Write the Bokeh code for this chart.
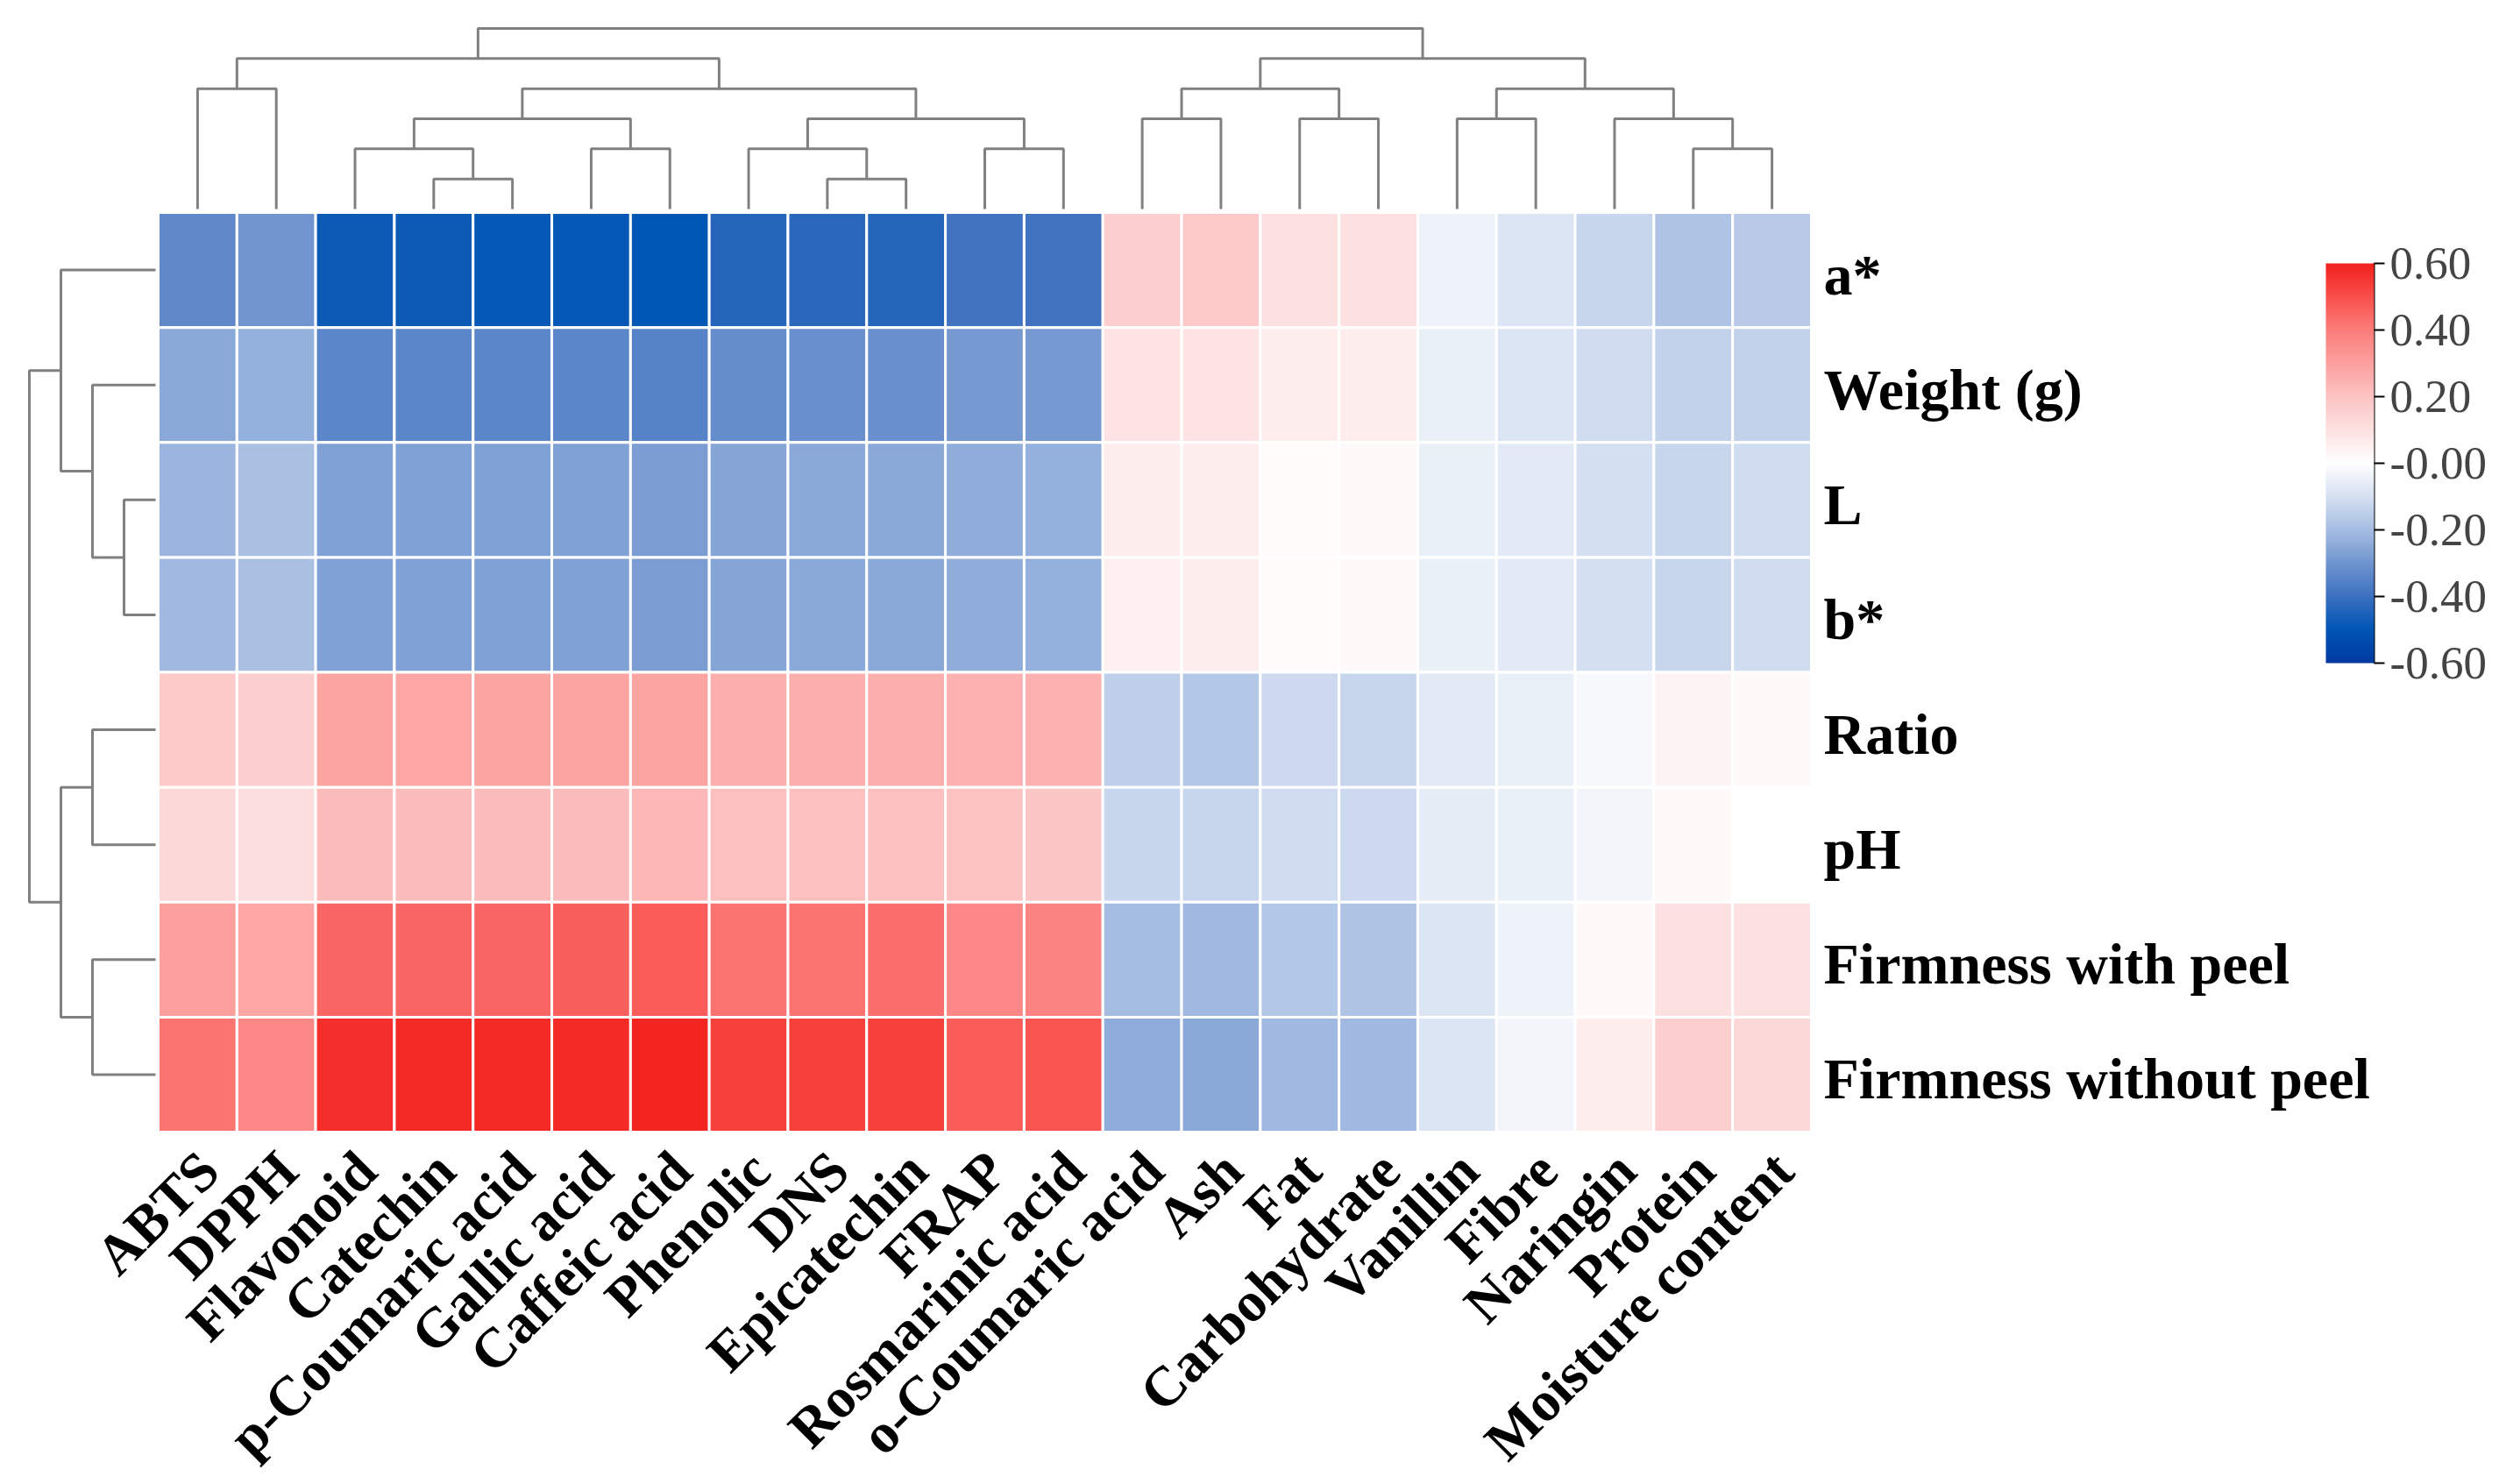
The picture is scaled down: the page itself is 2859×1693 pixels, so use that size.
import math
from bokeh.plotting import figure
from bokeh.models import Range1d, LinearColorMapper, ColorBar, FixedTicker, ColumnDataSource
from bokeh.core.properties import value
from bokeh.embed import file_html
from bokeh.resources import INLINE

# ---------------- data ----------------
columns = ["ABTS", "DPPH", "Flavonoid", "Catechin", "p-Coumaric acid", "Gallic acid",
           "Caffeic acid", "Phenolic", "DNS", "Epicatechin", "FRAP", "Rosmarinic acid",
           "o-Coumaric acid", "Ash", "Fat", "Carbohydrate", "Vanillin", "Fibre",
           "Naringin", "Protein", "Moisture content"]
rows = ["a*", "Weight (g)", "L", "b*", "Ratio", "pH",
        "Firmness with peel", "Firmness without peel"]

a_star = [-0.33, -0.30, -0.48, -0.48, -0.49, -0.49, -0.50, -0.44, -0.43, -0.44, -0.39, -0.39,
          0.16, 0.18, 0.10, 0.10, -0.04, -0.08, -0.13, -0.18, -0.16]
weight = [-0.25, -0.23, -0.34, -0.34, -0.34, -0.34, -0.35, -0.32, -0.31, -0.31, -0.29, -0.29,
          0.09, 0.09, 0.06, 0.06, -0.05, -0.08, -0.11, -0.14, -0.14]
l_val = [-0.22, -0.19, -0.27, -0.27, -0.27, -0.27, -0.28, -0.26, -0.25, -0.25, -0.24, -0.23,
         0.06, 0.06, 0.01, 0.02, -0.05, -0.07, -0.10, -0.13, -0.11]
b_star = [-0.21, -0.19, -0.27, -0.27, -0.27, -0.27, -0.28, -0.26, -0.25, -0.25, -0.24, -0.23,
          0.05, 0.06, 0.01, 0.02, -0.05, -0.07, -0.10, -0.13, -0.11]
ratio = [0.18, 0.16, 0.29, 0.28, 0.29, 0.29, 0.29, 0.26, 0.26, 0.26, 0.25, 0.25,
         -0.15, -0.17, -0.12, -0.13, -0.07, -0.05, -0.02, 0.04, 0.02]
ph = [0.13, 0.11, 0.22, 0.22, 0.22, 0.22, 0.23, 0.21, 0.21, 0.21, 0.20, 0.19,
      -0.13, -0.13, -0.11, -0.12, -0.06, -0.05, -0.03, 0.02, 0.00]
firm_with = [0.30, 0.28, 0.45, 0.45, 0.45, 0.46, 0.47, 0.42, 0.42, 0.43, 0.37, 0.38,
             -0.20, -0.21, -0.17, -0.18, -0.08, -0.04, 0.02, 0.10, 0.10]
firm_without = [0.42, 0.37, 0.57, 0.58, 0.58, 0.58, 0.59, 0.53, 0.53, 0.53, 0.47, 0.49,
                -0.24, -0.25, -0.21, -0.21, -0.08, -0.03, 0.06, 0.16, 0.13]
matrix = [a_star, weight, l_val, b_star, ratio, ph, firm_with, firm_without]

# dendrograms: (height, left, right); ints are leaf indices
col_tree = (6,
            (5, (4, 0, 1),
                (4, (3, (2, 2, (1, 3, 4)), (2, 5, 6)),
                    (3, (2, 7, (1, 8, 9)), (2, 10, 11)))),
            (5, (4, (3, 12, 13), (3, 14, 15)),
                (4, (3, 16, 17), (3, 18, (2, 19, 20)))))
row_tree = (4, (3, 0, (2, 1, (1, 2, 3))), (3, (2, 4, 5), (2, 6, 7)))

cbar_ticks = [-0.6, -0.4, -0.2, 0.0, 0.2, 0.4, 0.6]
cbar_labels = ["-0.60", "-0.40", "-0.20", "-0.00", "0.20", "0.40", "0.60"]

# colour scale anchors (value, rgb)
scale_anchors = [(-0.6, (0, 58, 160)), (-0.5, (0, 86, 180)), (-0.4, (61, 112, 192)),
                 (-0.3, (112, 149, 207)), (-0.2, (166, 189, 226)), (-0.1, (213, 224, 241)),
                 (0.0, (255, 255, 255)), (0.1, (253, 225, 225)), (0.2, (253, 195, 195)),
                 (0.3, (252, 160, 158)), (0.4, (251, 125, 123)), (0.5, (248, 80, 76)),
                 (0.6, (242, 33, 28))]

# ---------------- layout (page pixels) ----------------
W, H = 2859, 1693
PAGE0 = 0
HM_LEFT, HM_TOP, HM_RIGHT, HM_BOTTOM = 180, 242, 2066, 1291
NC, NR = len(columns), len(rows)
CW = (HM_RIGHT - HM_LEFT) / NC
RH = (HM_BOTTOM - HM_TOP) / NR


def dx(px):
    return (px - HM_LEFT) / CW


def dy(py):
    return (py - HM_TOP) / RH


def palette_from(anchors, n=256):
    lo, hi = anchors[0][0], anchors[-1][0]
    out = []
    for k in range(n):
        v = lo + (hi - lo) * k / (n - 1)
        for (v0, c0), (v1, c1) in zip(anchors[:-1], anchors[1:]):
            if v0 <= v <= v1 + 1e-12:
                t = (v - v0) / (v1 - v0)
                rgb = [round(a + (b - a) * t) for a, b in zip(c0, c1)]
                out.append("#%02x%02x%02x" % tuple(rgb))
                break
    return out


palette = palette_from(scale_anchors)
mapper = LinearColorMapper(palette=palette, low=-0.6, high=0.6)

p = figure(width=W, height=H, output_backend="svg", toolbar_location=None,
           x_axis_location=None, y_axis_location=None,
           x_range=Range1d(dx(PAGE0), dx(PAGE0 + W)),
           y_range=Range1d(dy(PAGE0 + H), dy(PAGE0)),
           min_border=0, outline_line_color=None)
p.grid.visible = False
p.background_fill_color = "white"
p.border_fill_color = "white"

# heatmap cells
xs, ys, vals = [], [], []
for j, rvals in enumerate(matrix):
    for i, v in enumerate(rvals):
        xs.append(i + 0.5)
        ys.append(j + 0.5)
        vals.append(v)
src = ColumnDataSource(dict(x=xs, y=ys, v=vals))
p.rect(x="x", y="y", width=1, height=1, source=src,
       fill_color={"field": "v", "transform": mapper},
       line_color="white", line_width=3)


# dendrograms
def dendro(node, paths):
    if isinstance(node, int):
        return node + 0.5, 0.0
    h, left, right = node
    pl, hl = dendro(left, paths)
    pr, hr = dendro(right, paths)
    paths.append([(pl, hl), (pl, h), (pr, h), (pr, hr)])
    return (pl + pr) / 2, h


top_paths = []
dendro(col_tree, top_paths)
gap_top = dy(238)
unit_top = (dy(238) - dy(32)) / 6
p.multi_line(xs=[[q[0] for q in path] for path in top_paths],
             ys=[[gap_top - q[1] * unit_top for q in path] for path in top_paths],
             line_color="#808080", line_width=3)

left_paths = []
dendro(row_tree, left_paths)
gap_left = dx(177)
unit_left = (dx(177) - dx(33)) / 4
p.multi_line(xs=[[gap_left - q[1] * unit_left for q in path] for path in left_paths],
             ys=[[q[0] for q in path] for path in left_paths],
             line_color="#808080", line_width=3)

# row labels
p.text(x=[dx(2080)] * NR, y=[j + 0.5 + 5 / RH for j in range(NR)], text=rows,
       text_font=value("Liberation Serif"), text_font_style="bold",
       text_font_size="66px", text_align="left", text_baseline="middle",
       text_color="black")

# column labels
p.text(x=[i + 0.5 - 12 / CW for i in range(NC)], y=[dy(1299)] * NC, text=columns,
       angle=math.pi / 4, text_font=value("Liberation Serif"), text_font_style="bold",
       text_font_size="64px", text_align="right", text_baseline="top",
       text_color="black")

# colour bar
CB_LEFT, CB_TOP, CB_W, CB_H = 2653, 300, 55, 456
cb = ColorBar(color_mapper=mapper, width=CB_W, height=CB_H, padding=0,
              location=(CB_LEFT - PAGE0, PAGE0 + H - (CB_TOP + CB_H)),
              ticker=FixedTicker(ticks=cbar_ticks),
              major_label_overrides={t: s for t, s in zip(cbar_ticks, cbar_labels)},
              major_label_text_font="Liberation Serif",
              major_label_text_font_size="53px",
              major_tick_in=0, major_tick_out=12,
              major_tick_line_color="black", major_tick_line_width=2,
              minor_tick_line_color=None, bar_line_color=None,
              border_line_color=None, background_fill_alpha=0,
              label_standoff=6)
p.add_layout(cb, "center")
p.segment(x0=[dx(CB_LEFT + CB_W)], y0=[dy(CB_TOP)], x1=[dx(CB_LEFT + CB_W)],
          y1=[dy(CB_TOP + CB_H)], line_color="black", line_width=2)

open("out.html", "w").write(file_html(p, INLINE))
